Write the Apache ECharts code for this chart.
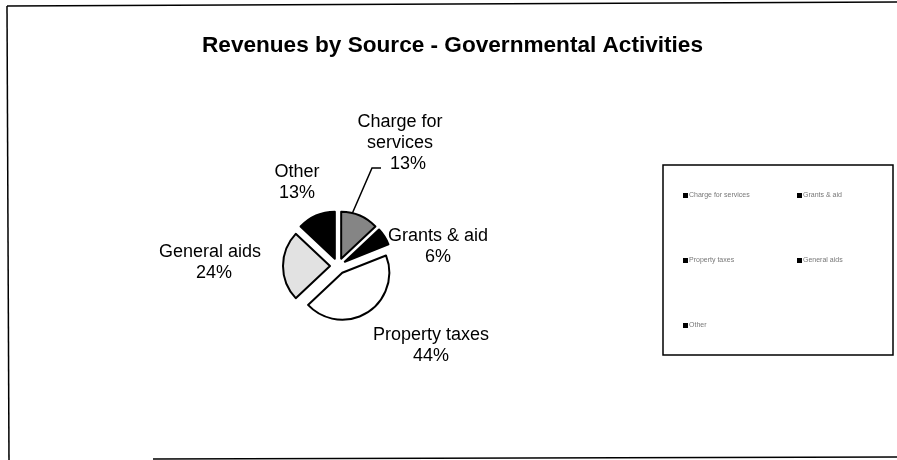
<!DOCTYPE html>
<html>
<head>
<meta charset="utf-8">
<script src="https://cdn.jsdelivr.net/npm/echarts@6/dist/echarts.min.js"></script>
<style>
html,body{margin:0;padding:0;background:#fff;}
#chart{width:897px;height:460px;}
</style>
</head>
<body>
<div id="chart"></div>
<script>
var titleText = 'Revenues by Source - Governmental Activities';
var categories = ['Charge for services', 'Grants & aid', 'Property taxes', 'General aids', 'Other'];
var values = [13, 6, 44, 24, 13];
var labelNames = ['Charge for\nservices', 'Grants & aid', 'Property taxes', 'General aids', 'Other'];
var percentLabels = ['13%', '6%', '44%', '24%', '13%'];

var sliceColors = ['#858585', '#000000', '#ffffff', '#e2e2e2', '#000000'];
// label block centres (style/position only)
var labelPos = [[400, 143], [438, 247], [431, 346], [210, 263], [297, 183]];
var pctIndent = [16, 0, 0, 8, 0];
var legendPos = [[683, 192], [797, 192], [683, 257], [797, 257], [683, 322]];
var FONT = 'Liberation Sans, Arial, sans-serif';

var chart = echarts.init(document.getElementById('chart'), null, {renderer: 'canvas'});

var pieData = categories.map(function (c, i) {
  return {
    name: c,
    value: values[i],
    selected: true,
    itemStyle: {color: sliceColors[i]},
    select: {itemStyle: {color: sliceColors[i], borderColor: '#000', borderWidth: 2}}
  };
});

var legends = categories.map(function (c, i) {
  return {
    data: [c],
    left: legendPos[i][0],
    top: legendPos[i][1],
    padding: 0,
    itemWidth: 5,
    itemHeight: 5,
    icon: 'rect',
    itemStyle: {color: '#000', borderWidth: 0},
    textStyle: {fontSize: 7, color: '#777', padding: [0, 0, 0, -4]},
    selectedMode: false
  };
});

var labelGraphics = categories.map(function (c, i) {
  return {
    type: 'text',
    x: labelPos[i][0],
    y: labelPos[i][1],
    silent: true,
    style: {
      text: '{n|' + labelNames[i].split('\n').join('}\n{n|') + '}\n{p|' + percentLabels[i] + '}',
      align: 'center',
      verticalAlign: 'middle',
      fill: '#000',
      font: '18px ' + FONT,
      rich: {
        n: {fontSize: 18, fontFamily: FONT, lineHeight: 21, fill: '#000'},
        p: {fontSize: 18, fontFamily: FONT, lineHeight: 21, fill: '#000', padding: [0, 0, 0, pctIndent[i]]}
      }
    }
  };
});

chart.setOption({
  backgroundColor: '#fff',
  animation: false,
  title: {
    text: titleText,
    left: 202,
    top: 34,
    padding: 0,
    textStyle: {fontFamily: FONT, fontSize: 22.6, fontWeight: 'bold', color: '#000'}
  },
  legend: legends,
  series: [{
    type: 'pie',
    center: [338, 266],
    radius: 47,
    startAngle: 90,
    clockwise: true,
    selectedMode: 'multiple',
    selectedOffset: 8,
    silent: true,
    itemStyle: {borderColor: '#000', borderWidth: 2},
    emphasis: {disabled: true},
    label: {show: false},
    labelLine: {show: false},
    data: pieData
  }],
  graphic: labelGraphics.concat([
    {type: 'polyline', shape: {points: [[352, 214], [372, 168], [381, 168]]}, style: {stroke: '#000', lineWidth: 1.5, fill: null}},
    {type: 'line', shape: {x1: 7, y1: 6, x2: 897, y2: 2}, style: {stroke: '#000', lineWidth: 1.5}},
    {type: 'line', shape: {x1: 7, y1: 6, x2: 9, y2: 460}, style: {stroke: '#000', lineWidth: 1.5}},
    {type: 'line', shape: {x1: 153, y1: 459, x2: 897, y2: 457}, style: {stroke: '#000', lineWidth: 1.5}},
    {type: 'rect', shape: {x: 663, y: 165, width: 230, height: 190}, style: {fill: 'none', stroke: '#000', lineWidth: 1.5}}
  ])
});
</script>
</body>
</html>
